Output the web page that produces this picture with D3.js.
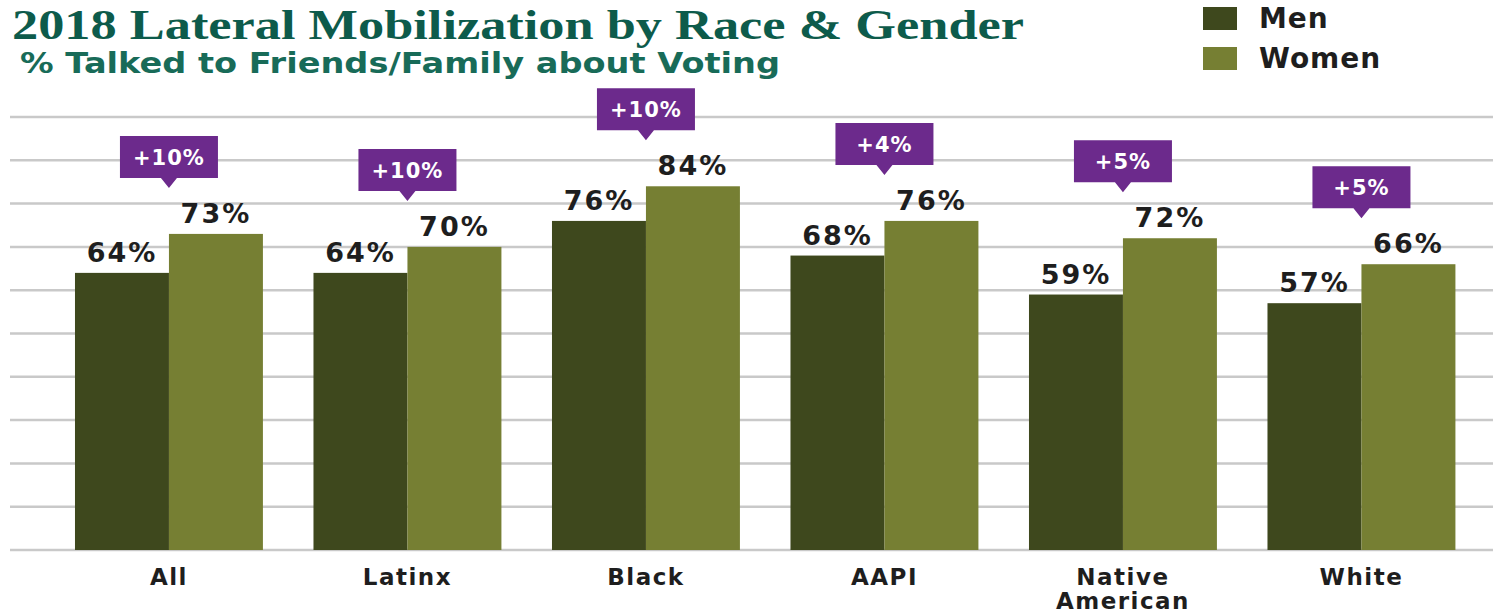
<!DOCTYPE html>
<html>
<head>
<meta charset="utf-8">
<script src="https://cdn.jsdelivr.net/npm/d3@7"></script>
<style>
  body { margin: 0; background: #fff; }
</style>
</head>
<body>
<svg id="chart" width="1493" height="613"></svg>
<script>
// chart data
let groups = ["All", "Latinx", "Black", "AAPI", "Native American", "White"];
let menValues = [64, 64, 76, 68, 59, 57];
let womenValues = [73, 70, 84, 76, 72, 66];
let gapLabels = ["+10%", "+10%", "+10%", "+4%", "+5%", "+5%"];
let seriesNames = ["Men", "Women"];
let gridTicks = [0, 10, 20, 30, 40, 50, 60, 70, 80, 90, 100];

let svg = d3.select("#chart"),
    width = +svg.attr("width"),
    baseY = 550,
    topY = 117;

let colors = d3.scaleOrdinal().domain(seriesNames).range(["#3e481d", "#767f33"]);

let x0 = d3.scaleBand().domain(groups).range([49.7, 1480.7]).paddingInner(0.212).paddingOuter(0.106),
    x1 = d3.scaleBand().domain(seriesNames).range([0, x0.bandwidth()]),
    y = d3.scaleLinear().domain([0, 100]).range([baseY, topY]);

// grid lines
svg.append("g")
    .selectAll("line")
    .data(gridTicks)
    .enter().append("line")
    .attr("x1", 10)
    .attr("x2", width)
    .attr("y1", d => y(d))
    .attr("y2", d => y(d))
    .attr("stroke", "#c9c9c9")
    .attr("stroke-width", 2.5);

// title
svg.append("text")
    .attr("x", 12)
    .attr("y", 39)
    .attr("font-family", "Liberation Serif, serif")
    .attr("font-weight", "bold")
    .attr("font-size", "42px")
    .attr("textLength", 1012)
    .attr("lengthAdjust", "spacingAndGlyphs")
    .attr("fill", "#0d5b4b")
    .text("2018 Lateral Mobilization by Race & Gender");

svg.append("text")
    .attr("x", 20)
    .attr("y", 73)
    .attr("font-family", "DejaVu Sans, sans-serif")
    .attr("font-weight", "bold")
    .attr("font-size", "29px")
    .attr("textLength", 760)
    .attr("lengthAdjust", "spacingAndGlyphs")
    .attr("fill", "#186b58")
    .text("% Talked to Friends/Family about Voting");

// legend
let legend = svg.append("g").selectAll("g")
    .data(seriesNames)
    .enter().append("g")
    .attr("transform", (d, i) => "translate(1203," + (7 + i * 40) + ")");

legend.append("rect")
    .attr("width", 34)
    .attr("height", 23)
    .attr("fill", d => colors(d));

legend.append("text")
    .attr("x", 56)
    .attr("y", 21)
    .attr("font-family", "DejaVu Sans, sans-serif")
    .attr("font-weight", "bold")
    .attr("font-size", "28px")
    .attr("letter-spacing", "1px")
    .attr("fill", "#1e1e1e")
    .text(d => d);

// bars
let rows = groups.map((g, i) => ({
    group: g,
    gap: gapLabels[i],
    values: [{ key: "Men", value: menValues[i] }, { key: "Women", value: womenValues[i] }]
}));

let groupG = svg.append("g").selectAll("g")
    .data(rows)
    .enter().append("g")
    .attr("transform", d => "translate(" + x0(d.group) + ",0)");

groupG.selectAll("rect")
    .data(d => d.values)
    .enter().append("rect")
    .attr("x", d => x1(d.key))
    .attr("y", d => y(d.value))
    .attr("width", x1.bandwidth())
    .attr("height", d => baseY - y(d.value))
    .attr("fill", d => colors(d.key));

// value labels
groupG.selectAll(".val")
    .data(d => d.values)
    .enter().append("text")
    .attr("class", "val")
    .attr("x", d => x1(d.key) + x1.bandwidth() / 2)
    .attr("y", d => y(d.value) - 11)
    .attr("text-anchor", "middle")
    .attr("font-family", "DejaVu Sans, sans-serif")
    .attr("font-weight", "bold")
    .attr("font-size", "27px")
    .attr("letter-spacing", "2px")
    .attr("fill", "#1e1e1e")
    .text(d => d.value + "%");

// gap callouts
let callout = groupG.append("g")
    .attr("transform", d => {
        let top = y(d3.max(d.values, v => v.value));
        return "translate(" + x0.bandwidth() / 2 + "," + (top - 46) + ")";
    });

callout.append("path")
    .attr("d", "M-49,-52 H49 V-10 H8 L0,0 L-8,-10 H-49 Z")
    .attr("fill", "#6c2a8c");

callout.append("text")
    .attr("y", -23)
    .attr("text-anchor", "middle")
    .attr("font-family", "DejaVu Sans, sans-serif")
    .attr("font-weight", "bold")
    .attr("font-size", "21px")
    .attr("letter-spacing", "1px")
    .attr("fill", "#ffffff")
    .text(d => d.gap);

// x axis labels
let xLabels = svg.append("g").selectAll("text")
    .data(groups)
    .enter().append("text")
    .attr("x", d => x0(d) + x0.bandwidth() / 2)
    .attr("y", 585)
    .attr("text-anchor", "middle")
    .attr("font-family", "DejaVu Sans, sans-serif")
    .attr("font-weight", "bold")
    .attr("font-size", "23px")
    .attr("letter-spacing", "1.5px")
    .attr("fill", "#1e1e1e");

xLabels.each(function(d) {
    let words = d.split(" ");
    let t = d3.select(this);
    words.forEach((w, i) => {
        t.append("tspan")
            .attr("x", x0(d) + x0.bandwidth() / 2)
            .attr("dy", i == 0 ? 0 : 24)
            .text(w);
    });
});
</script>
</body>
</html>
